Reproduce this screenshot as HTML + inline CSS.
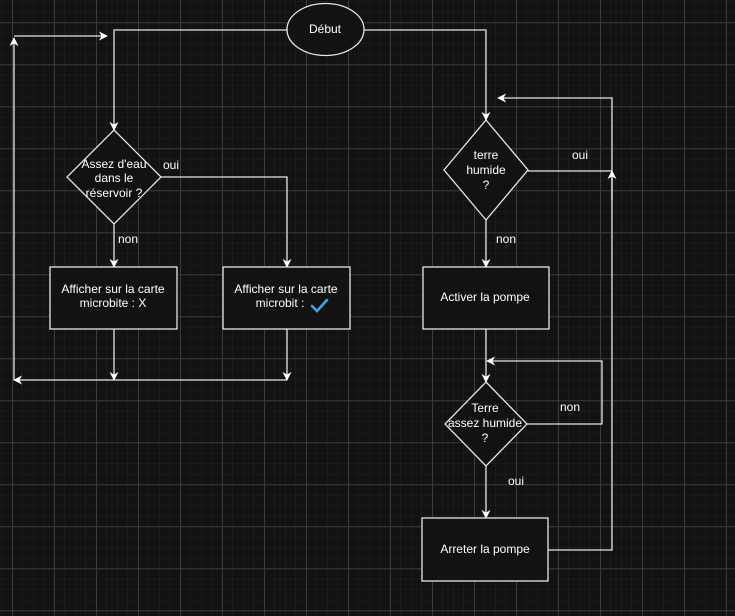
<!DOCTYPE html>
<html><head><meta charset="utf-8"><style>
html,body{margin:0;padding:0;background:#121212;}
svg{display:block;}
text{font-family:"Liberation Sans",sans-serif;font-size:12px;fill:#fff;}
</style></head><body>
<svg width="735" height="616" viewBox="0 0 735 616" xmlns="http://www.w3.org/2000/svg">
<defs>
<pattern id="minor" x="12" y="22.3" width="10.5" height="10.5" patternUnits="userSpaceOnUse">
<path d="M0 0H10.5M0 0V10.5" stroke="#222" stroke-width="1" fill="none"/>
</pattern>
<pattern id="major" x="12" y="22.3" width="42" height="42" patternUnits="userSpaceOnUse">
<path d="M0 0.5H42M0.5 0V42" stroke="#3a3a3a" stroke-width="1" fill="none"/>
</pattern>
<marker id="a" viewBox="0 0 10 10" refX="9" refY="5" markerWidth="9" markerHeight="9" orient="auto" markerUnits="userSpaceOnUse">
<path d="M0 0L10 5L0 10L3 5Z" fill="#fff"/>
</marker>
</defs>
<rect width="735" height="616" fill="#121212"/>
<rect width="735" height="616" fill="url(#minor)"/>
<rect width="735" height="616" fill="url(#major)"/>
<g stroke="#e6e6e6" stroke-width="1.3" fill="none">
<path d="M287 30H114V130" marker-end="url(#a)"/>
<path d="M364 30H486V120" marker-end="url(#a)"/>
<path d="M161 177H287V267" marker-end="url(#a)"/>
<path d="M114 224V267" marker-end="url(#a)"/>
<path d="M114 329V380" marker-end="url(#a)"/>
<path d="M287 329V380" marker-end="url(#a)"/>
<path d="M287 380H14" marker-end="url(#a)"/>
<path d="M14 380V38" marker-end="url(#a)"/>
<path d="M14 36H107" marker-end="url(#a)"/>
<path d="M486 220V267" marker-end="url(#a)"/>
<path d="M528 171H612"/>
<path d="M548 550H612V98H498" marker-end="url(#a)"/>
<path d="M612 200V171" marker-end="url(#a)"/>
<path d="M486 329V382" marker-end="url(#a)"/>
<path d="M527 424H602V361H487" marker-end="url(#a)"/>
<path d="M486 466V518" marker-end="url(#a)"/>
</g>
<g stroke="#e6e6e6" stroke-width="1.3" fill="#121212">
<ellipse cx="325.5" cy="29.5" rx="38.5" ry="26"/>
<path d="M114 130L161 177L114 224L67 177Z"/>
<rect x="50" y="267" width="127" height="62"/>
<rect x="223" y="267" width="127" height="62"/>
<path d="M486 120L528 170L486 220L444 170Z"/>
<rect x="423" y="267" width="126" height="62"/>
<path d="M486 382L527 424L486 466L445 424Z"/>
<rect x="422" y="518" width="126" height="63"/>
</g>
<g text-anchor="middle">
<text x="325" y="33">Début</text>
<text x="114" y="168">Assez d'eau</text>
<text x="114" y="182">dans le</text>
<text x="114" y="197">réservoir  ?</text>
<text x="113" y="293">Afficher sur la carte</text>
<text x="113" y="307">microbite : X</text>
<text x="286" y="293">Afficher sur la carte</text>
<text x="280" y="307">microbit :</text>
<text x="486" y="159">terre</text>
<text x="486" y="174">humide</text>
<text x="486" y="189">?</text>
<text x="485" y="301">Activer la pompe</text>
<text x="485" y="412">Terre</text>
<text x="485" y="427">assez humide</text>
<text x="485" y="442">?</text>
<text x="485" y="553">Arreter la pompe</text>
</g>
<path d="M312 306L317 311L327 300" stroke="#3fa7e0" stroke-width="2.6" fill="none" stroke-linecap="round"/>
<text x="163" y="169">oui</text>
<text x="118" y="243">non</text>
<text x="572" y="159">oui</text>
<text x="496" y="243">non</text>
<text x="560" y="411">non</text>
<text x="508" y="485">oui</text>
</svg>
</body></html>
